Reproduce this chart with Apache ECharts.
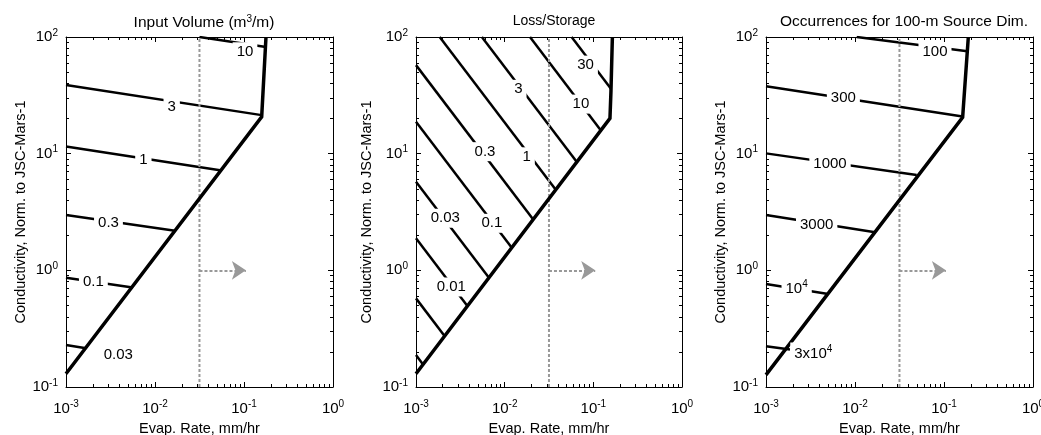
<!DOCTYPE html>
<html><head><meta charset="utf-8">
<script src="https://cdn.jsdelivr.net/npm/echarts@6/dist/echarts.min.js"></script>
<style>html,body{margin:0;padding:0;background:#fff}#c{width:1041px;height:435px}</style>
</head><body><div id="c"></div>
<script>
const FONT = '"Liberation Sans", Arial, Helvetica, sans-serif';
const xRange = [0.001, 1];
const yRange = [0.1, 100];
const titles = ['Input Volume (m{s|3}/m)', 'Loss/Storage', 'Occurrences for 100-m Source Dim.'];
const xName = 'Evap. Rate, mm/hr';
const yName = 'Conductivity, Norm. to JSC-Mars-1';
const dashX = 0.0316;
const arrowFrom = [0.0316, 1];
const arrowTo = [0.105, 1];

// Panel 1: Input Volume
const p1Boundary = [[0.001, 0.13], [0.158, 20.7], [0.1766, 100]];
const p1Values = ['10', '3', '1', '0.3', '0.1', '0.03'];
const p1Lines = [
  [[0.0316, 100], [0.1766, 82]],
  [[0.001, 38.7], [0.158, 21.4]],
  [[0.001, 11.5], [0.0537, 7.2]],
  [[0.001, 2.98], [0.0168, 2.18]],
  [[0.001, 0.865], [0.0056, 0.714]],
  [[0.001, 0.229], [0.00168, 0.215]]
];
const p1LabelAt = [[0.1026, 74.7], [0.0154, 25.2], [0.0074, 8.8], [0.003, 2.56], [0.00203, 0.80], [0.00387, 0.188]];

// Panel 2: Loss/Storage
const p2Boundary = [[0.001, 0.13], [0.154, 20.1], [0.158, 34], [0.164, 100]];
const p2Lines = [
  [[0.001, 0.188], [0.0012, 0.156]],
  [[0.001, 0.575], [0.0021, 0.273]],
  [[0.001, 1.88], [0.0038, 0.494]],
  [[0.001, 5.74], [0.00665, 0.864]],
  [[0.001, 18.8], [0.01203, 1.564]],
  [[0.001, 57.4], [0.021, 2.73]],
  [[0.00185, 100], [0.0377, 4.9]],
  [[0.00553, 100], [0.0652, 8.48]],
  [[0.0193, 100], [0.1218, 15.8]],
  [[0.0569, 100], [0.158, 36]]
];
const p2LabelText = ['', '', '0.01', '0.03', '0.1', '0.3', '1', '3', '10', '30'];
const p2LabelAt = [null, null, [0.0025, 0.72], [0.00214, 2.79], [0.00716, 2.53], [0.006, 10.4], [0.0177, 9.4], [0.01426, 35.6], [0.0724, 26.6], [0.0817, 57.4]];

// Panel 3: Occurrences
const p3Boundary = [[0.001, 0.127], [0.162, 20.5], [0.1876, 100]];
const p3Values = ['100', '300', '1000', '3000', '10^4', '3x10^4'];
const p3Lines = [
  [[0.01045, 100], [0.183, 75.5]],
  [[0.001, 37.9], [0.162, 20.8]],
  [[0.001, 10.06], [0.0493, 6.56]],
  [[0.001, 2.98], [0.0168, 2.12]],
  [[0.001, 0.763], [0.00501, 0.627]],
  [[0.001, 0.224], [0.00186, 0.21]]
];
const p3LabelAt = [[0.0792, 74.7], [0.0074, 29.8], [0.00524, 8.1], [0.00371, 2.44], [0.00221, 0.70], [0.0034, 0.194]];

const grids = [
  {left: 66, top: 37, width: 267, height: 350, outerBoundsMode: 'none', containLabel: false},
  {left: 416, top: 37, width: 266, height: 350, outerBoundsMode: 'none', containLabel: false},
  {left: 766, top: 37, width: 267, height: 350, outerBoundsMode: 'none', containLabel: false}
];
const titleCenters = [199, 549, 899];
const titleSizes = [15.5, 14, 15.5];
const yNameGaps = [38, 42, 37];

const BASE = 15;
const supRich = {
  b: {fontSize: BASE, fontFamily: FONT, color: '#000', textBorderWidth: 0},
  s: {fontSize: 10, fontFamily: FONT, color: '#000', textBorderWidth: 0, padding: [0, 0, 8, 0]}
};
function expLabel(v) {
  const e = Math.round(Math.log10(v));
  return '{b|10}{s|' + e + '}';
}
function fmtText(t) {
  const m = t.match(/^(.*)\^(\d+)$/);
  return m ? '{b|' + m[1] + '}{s|' + m[2] + '}' : '{b|' + t + '}';
}

const xAxes = [], yAxes = [], series = [], titleComps = [];
grids.forEach((g, i) => {
  ['bottom', 'top'].forEach(pos => {
    const main = pos === 'bottom';
    xAxes.push({
      type: 'log', logBase: 10, gridIndex: i, position: pos, min: xRange[0], max: xRange[1],
      axisLine: {show: true, onZero: false, lineStyle: {color: '#000', width: 1}},
      axisTick: {show: true, inside: true, length: 5, lineStyle: {color: '#000'}},
      minorTick: {show: true, splitNumber: 9, length: 3, lineStyle: {color: '#000'}},
      splitLine: {show: false}, minorSplitLine: {show: false},
      axisLabel: main ? {show: true, formatter: expLabel, rich: supRich, margin: 12.5, fontFamily: FONT} : {show: false},
      name: main ? xName : '', nameLocation: 'middle', nameGap: 34,
      nameTextStyle: {fontSize: 14.5, fontFamily: FONT, color: '#000'}
    });
  });
  ['left', 'right'].forEach(pos => {
    const main = pos === 'left';
    yAxes.push({
      type: 'log', logBase: 10, gridIndex: i, position: pos, min: yRange[0], max: yRange[1],
      axisLine: {show: true, onZero: false, lineStyle: {color: '#000', width: 1}},
      axisTick: {show: true, inside: true, length: 5, lineStyle: {color: '#000'}},
      minorTick: {show: true, splitNumber: 9, length: 3, lineStyle: {color: '#000'}},
      splitLine: {show: false}, minorSplitLine: {show: false},
      axisLabel: main ? {show: true, formatter: expLabel, rich: supRich, margin: 8, fontFamily: FONT} : {show: false},
      name: main ? yName : '', nameLocation: 'middle', nameGap: yNameGaps[i], nameRotate: 90,
      nameTextStyle: {fontSize: 14.5, fontFamily: FONT, color: '#000'}
    });
  });
  titleComps.push({
    text: titles[i], left: titleCenters[i], top: 9, textAlign: 'center',
    textStyle: {fontSize: titleSizes[i], fontWeight: 'normal', fontFamily: FONT, color: '#000',
      rich: {s: {fontSize: 10, fontFamily: FONT, color: '#000', padding: [0, 0, 8, 0]}}}
  });
  // dashed vertical line and arrow
  series.push({
    type: 'line', xAxisIndex: 2 * i, yAxisIndex: 2 * i, silent: true, symbol: 'none', z: 3,
    data: [[dashX, yRange[0]], [dashX, yRange[1]]],
    lineStyle: {color: '#999', width: 2, type: [3, 2]},
    markLine: {
      silent: true, symbol: ['none', 'arrow'], symbolSize: 14,
      label: {show: false},
      lineStyle: {color: '#999', width: 2, type: [3, 2]},
      data: [[{coord: arrowFrom}, {coord: arrowTo}]]
    }
  });
});

function addPanel(i, boundary, lines, texts, labelAt) {
  lines.forEach(pts => series.push({
    type: 'line', xAxisIndex: 2 * i, yAxisIndex: 2 * i, silent: true, symbol: 'none', z: 2,
    data: pts, lineStyle: {color: '#000', width: 2.5}
  }));
  series.push({
    type: 'line', xAxisIndex: 2 * i, yAxisIndex: 2 * i, silent: true, symbol: 'none', z: 4,
    data: boundary, lineStyle: {color: '#000', width: 3.5, join: 'miter'}
  });
  const d = [];
  texts.forEach((t, k) => { if (t && labelAt[k]) d.push({value: labelAt[k], name: t}); });
  series.push({
    type: 'scatter', xAxisIndex: 2 * i, yAxisIndex: 2 * i, silent: true, symbolSize: 0, z: 5,
    itemStyle: {opacity: 1, color: '#000'},
    data: d,
    label: {
      show: true, position: 'inside', formatter: p => fmtText(p.name), rich: supRich,
      color: '#000', textBorderWidth: 0, textBorderColor: 'transparent', opacity: 1,
      backgroundColor: '#fff', padding: [2, 4]
    }
  });
}
addPanel(0, p1Boundary, p1Lines, p1Values, p1LabelAt);
addPanel(1, p2Boundary, p2Lines, p2LabelText, p2LabelAt);
addPanel(2, p3Boundary, p3Lines, p3Values, p3LabelAt);

const chart = echarts.init(document.getElementById('c'), null, {renderer: 'canvas'});
chart.setOption({
  animation: false,
  backgroundColor: '#fff',
  title: titleComps,
  grid: grids,
  xAxis: xAxes,
  yAxis: yAxes,
  series: series
});
</script></body></html>
